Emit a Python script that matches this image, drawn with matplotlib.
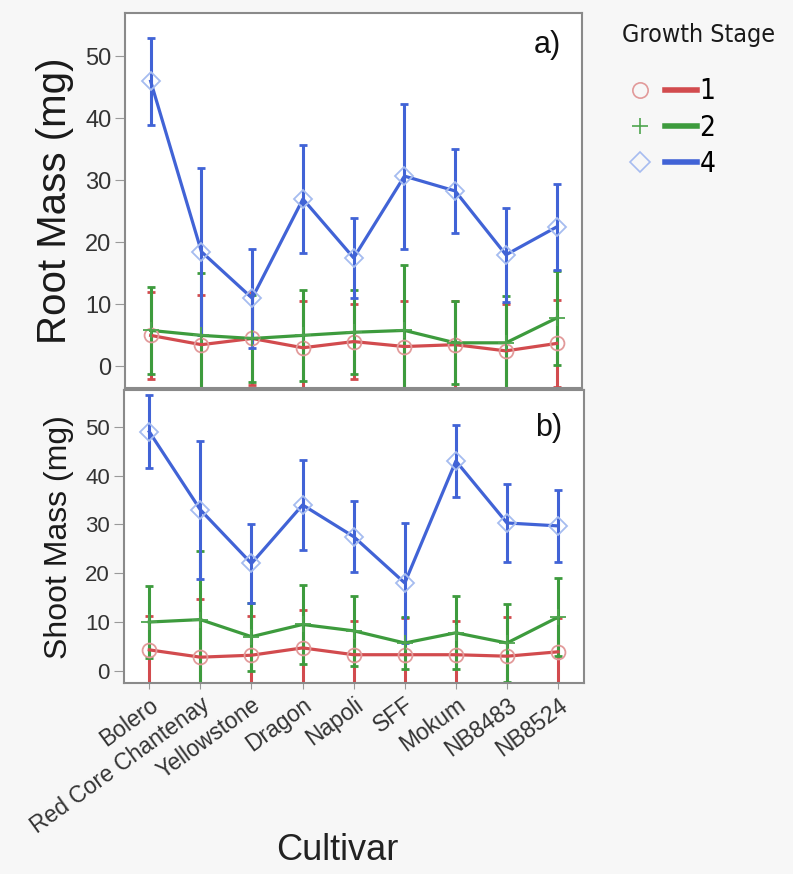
import numpy as np
import matplotlib
matplotlib.use("Agg")
import matplotlib.pyplot as plt
from matplotlib.lines import Line2D
from matplotlib.legend_handler import HandlerTuple

plt.rcParams['font.family'] = ['Liberation Sans', 'DejaVu Sans']

cultivars = ['Bolero', 'Red Core Chantenay', 'Yellowstone', 'Dragon', 'Napoli',
             'SFF', 'Mokum', 'NB8483', 'NB8524']
stages = ['1', '2', '4']

# root mass (mg): means and error half-widths per growth stage
root_mean_1 = [5.0, 3.5, 4.5, 3.0, 4.0, 3.2, 3.5, 2.5, 3.7]
root_err_1 = [7.0, 8.0, 7.5, 7.5, 6.0, 7.3, 7.0, 7.5, 7.0]
root_mean_2 = [5.8, 5.0, 4.5, 5.0, 5.5, 5.8, 3.8, 3.8, 7.8]
root_err_2 = [7.0, 10.0, 7.0, 7.3, 6.8, 10.5, 6.7, 7.5, 7.6]
root_mean_4 = [46.0, 18.5, 11.0, 27.0, 17.5, 30.7, 28.3, 18.0, 22.5]
root_err_4 = [7.0, 13.5, 8.0, 8.7, 6.5, 11.7, 6.8, 7.6, 7.0]

# shoot mass (mg)
shoot_mean_1 = [4.3, 2.8, 3.2, 4.7, 3.3, 3.3, 3.3, 3.0, 3.9]
shoot_err_1 = [7.0, 12.0, 8.0, 7.7, 7.0, 7.5, 7.0, 8.0, 7.0]
shoot_mean_2 = [10.0, 10.5, 7.0, 9.5, 8.2, 5.7, 7.8, 5.7, 11.0]
shoot_err_2 = [7.3, 14.0, 7.0, 8.0, 7.2, 5.3, 7.5, 8.0, 8.0]
shoot_mean_4 = [49.0, 33.0, 22.0, 34.0, 27.5, 18.0, 43.0, 30.3, 29.7]
shoot_err_4 = [7.5, 14.2, 8.0, 9.3, 7.3, 12.3, 7.3, 8.0, 7.4]

line_col = {'1': '#d24b4e', '2': '#3d9b3d', '4': '#4163d6'}
mark_col = {'1': '#e29a9a', '2': '#4ea54e', '4': '#a6bcf0'}
markers = {'1': 'o', '2': '+', '4': 'D'}
msize = {'1': 10, '2': 11, '4': 9}

fig = plt.figure(figsize=(7.93, 8.74), dpi=100, facecolor='#f7f7f7')
ax1 = fig.add_axes([0.158, 0.556, 0.576, 0.429])
ax2 = fig.add_axes([0.156, 0.2185, 0.580, 0.335])

x = np.arange(len(cultivars))


def draw(ax, means, errs):
    for s, m, e in zip(stages, means, errs):
        ax.errorbar(x, m, yerr=e, color=line_col[s], lw=2.3, elinewidth=2.2,
                    capsize=3, capthick=2, zorder=2)
        ax.plot(x, m, ls='none', marker=markers[s], ms=msize[s], mfc='none',
                mec=mark_col[s], mew=1.3, zorder=3)
    ax.set_xlim(-0.5, 8.5)
    ax.set_yticks([0, 10, 20, 30, 40, 50])
    ax.set_xticks(x)
    ax.set_facecolor('white')
    for sp in ax.spines.values():
        sp.set_color('#8a8a8a')
        sp.set_linewidth(1.5)
    ax.tick_params(axis='y', direction='out', length=7, color='#9a9a9a',
                   labelcolor='#333333', pad=3)
    ax.tick_params(axis='x', direction='out', length=4, color='#9a9a9a')


draw(ax1, [root_mean_1, root_mean_2, root_mean_4], [root_err_1, root_err_2, root_err_4])
draw(ax2, [shoot_mean_1, shoot_mean_2, shoot_mean_4], [shoot_err_1, shoot_err_2, shoot_err_4])

ax1.set_ylim(-3.5, 57)
ax2.set_ylim(-2.5, 57.5)
ax1.set_xticklabels([])
ax1.tick_params(axis='y', labelsize=17)
ax2.tick_params(axis='y', labelsize=16)
ax2.set_xticklabels(cultivars, rotation=36, ha='right', rotation_mode='anchor',
                    fontsize=16.5, color='#333333')

ax1.set_ylabel('Root Mass (mg)', fontsize=29, color='#1a1a1a', labelpad=8)
ax2.set_ylabel('Shoot Mass (mg)', fontsize=23, color='#1a1a1a', labelpad=8)
ax1.text(0.925, 0.915, 'a)', transform=ax1.transAxes, fontsize=22,
         ha='center', va='center', color='#111111')
ax2.text(0.925, 0.87, 'b)', transform=ax2.transAxes, fontsize=22,
         ha='center', va='center', color='#111111')
fig.text(0.425, 0.027, 'Cultivar', fontsize=26, ha='center', va='center',
         color='#222222')

narrow = dict(family=['Liberation Sans Narrow', 'DejaVu Sans'], stretch='condensed')
fig.text(0.784, 1 - 35 / 874, 'Growth Stage', fontsize=18, ha='left', va='center',
         color='#1a1a1a', **narrow)

handles = []
for s in stages:
    mk = Line2D([], [], ls='none', marker=markers[s], ms=msize[s] + 1, mfc='none',
                mec=mark_col[s], mew=1.2)
    ln = Line2D([], [], color=line_col[s], lw=4)
    handles.append((mk, ln))
leg = fig.legend(handles, stages, loc='upper left',
                 bbox_to_anchor=(0.756, 0.94), frameon=False,
                 prop=dict(size=20, **narrow),
                 handlelength=2.6, handletextpad=0.1, labelspacing=0.3,
                 handler_map={tuple: HandlerTuple(ndivide=None, pad=0.35)})

fig.savefig('out.png', dpi=100, facecolor=fig.get_facecolor())
